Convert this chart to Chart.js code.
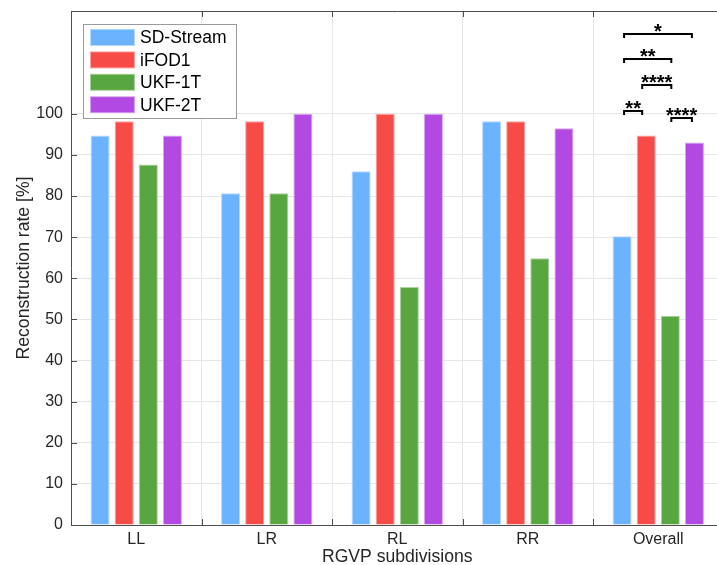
<!DOCTYPE html>
<html>
<head>
<meta charset="utf-8">
<script src="https://cdn.jsdelivr.net/npm/chart.js@4.4.1/dist/chart.umd.min.js"></script>
<style>
  html, body { margin: 0; padding: 0; background: #fff; overflow: hidden; }
  #wrap { width: 740px; height: 565px; }
</style>
</head>
<body>
<div id="wrap"><canvas id="c" width="740" height="565"></canvas></div>
<script>
// ---- data ----
const categories = ['LL', 'LR', 'RL', 'RR', 'Overall'];
const seriesNames = ['SD-Stream', 'iFOD1', 'UKF-1T', 'UKF-2T'];
const sdStream = [94.7, 80.7, 86.0, 98.2, 70.2];
const iFOD1    = [98.2, 98.2, 100.0, 98.2, 94.7];
const ukf1T    = [87.7, 80.7, 57.9, 64.9, 50.9];
const ukf2T    = [94.7, 100.0, 100.0, 96.5, 93.0];
const yTickValues = [0, 10, 20, 30, 40, 50, 60, 70, 80, 90, 100];

// pairwise tests on the Overall group: [series A, series B, marker]
const sigPairs = [[0, 1, '**'], [2, 3, '****'], [1, 2, '****'], [0, 2, '**'], [0, 3, '*']];
// bracket heights in % units, one per pair
const sigLevels = [100.7, 99.1, 107.1, 113.3, 119.5];

// ---- style ----
const FONT = "'Liberation Sans', Arial, Helvetica, sans-serif";
const AXIS = '#4d4d4d';
const TEXT = '#262626';
const GRID = '#e6e6e6';
const fills = ['#6cb3ff', '#f64b47', '#57a63f', '#b149e2'];
const edges = ['#b3d8ff', '#fba3a1', '#abd29f', '#d8a4f0'];
const bracketNudge = [2, -4, 1, -2.5];
const TICK = 6;
const PLOT_TOP = 11;

const seriesValues = [sdStream, iFOD1, ukf1T, ukf2T];

const decor = {
  id: 'decor',
  afterDraw(chart) {
    const { ctx, chartArea: a, scales: { x, y } } = chart;
    ctx.save();

    // box outline and inward tick marks
    ctx.strokeStyle = AXIS;
    ctx.lineWidth = 1;
    ctx.beginPath();
    ctx.moveTo(a.left, a.top + 0.5); ctx.lineTo(a.right, a.top + 0.5);
    ctx.moveTo(a.right - 0.5, a.top); ctx.lineTo(a.right - 0.5, a.bottom);
    yTickValues.forEach(v => {
      const py = Math.round(y.getPixelForValue(v)) + 0.5;
      ctx.moveTo(a.left, py); ctx.lineTo(a.left + TICK, py);
      ctx.moveTo(a.right, py); ctx.lineTo(a.right - TICK, py);
    });
    for (let i = 1; i < categories.length; i++) {
      const px = Math.round((x.getPixelForValue(i - 1) + x.getPixelForValue(i)) / 2) + 0.5;
      ctx.moveTo(px, a.bottom); ctx.lineTo(px, a.bottom - TICK);
      ctx.moveTo(px, a.top); ctx.lineTo(px, a.top + TICK);
    }
    ctx.stroke();

    // axis titles
    ctx.fillStyle = TEXT;
    ctx.font = `17.6px ${FONT}`;
    ctx.textAlign = 'center';
    ctx.textBaseline = 'middle';
    ctx.fillText('RGVP subdivisions', (a.left + a.right) / 2, 557);
    ctx.save();
    ctx.translate(24, (a.top + a.bottom) / 2);
    ctx.rotate(-Math.PI / 2);
    ctx.fillText('Reconstruction rate [%]', 0, 0);
    ctx.restore();

    // significance brackets over the last group
    const last = categories.length - 1;
    ctx.strokeStyle = '#000';
    ctx.fillStyle = '#000';
    ctx.lineWidth = 2;
    ctx.lineJoin = 'miter';
    ctx.font = `bold 20px ${FONT}`;
    ctx.textBaseline = 'alphabetic';
    sigPairs.forEach(([sa, sb, mark], k) => {
      const xa = chart.getDatasetMeta(sa).data[last].x + bracketNudge[sa];
      const xb = chart.getDatasetMeta(sb).data[last].x + bracketNudge[sb];
      const yy = Math.round(y.getPixelForValue(sigLevels[k]));
      ctx.beginPath();
      ctx.moveTo(xa, yy + 4); ctx.lineTo(xa, yy); ctx.lineTo(xb, yy); ctx.lineTo(xb, yy + 4);
      ctx.stroke();
      ctx.fillText(mark, (xa + xb) / 2, yy + 4);
    });

    // legend
    const lx = 83.5, ly = 24.5, lw = 153, lh = 94;
    ctx.fillStyle = '#fff';
    ctx.fillRect(lx, ly, lw, lh);
    ctx.strokeStyle = '#9a9a9a';
    ctx.lineWidth = 1;
    ctx.strokeRect(lx, ly, lw, lh);
    ctx.font = `17.5px ${FONT}`;
    ctx.textAlign = 'left';
    ctx.textBaseline = 'middle';
    chart.data.datasets.forEach((ds, i) => {
      const cy = 37.5 + i * 22.4;
      ctx.fillStyle = ds.borderColor;
      ctx.fillRect(90, cy - 8.5, 45, 17);
      ctx.fillStyle = ds.backgroundColor;
      ctx.fillRect(91, cy - 7.5, 43, 15);
      ctx.fillStyle = '#000';
      ctx.fillText(ds.label, 140, cy + 1);
    });

    ctx.restore();
  }
};

new Chart(document.getElementById('c'), {
  type: 'bar',
  data: {
    labels: categories,
    datasets: seriesNames.map((name, i) => ({
      label: name,
      data: seriesValues[i],
      backgroundColor: fills[i],
      borderColor: edges[i],
      borderWidth: 1,
      borderSkipped: 'start',
      categoryPercentage: 0.739,
      barPercentage: 0.79
    }))
  },
  options: {
    responsive: false,
    animation: false,
    devicePixelRatio: 1,
    layout: { padding: { top: 0, right: 16.5, left: 0, bottom: 0 } },
    plugins: { legend: { display: false }, tooltip: { enabled: false } },
    scales: {
      x: {
        grid: { color: GRID, drawTicks: false, offset: true },
        border: { color: AXIS },
        ticks: { color: TEXT, font: { family: FONT, size: 16 }, padding: 5 },
        afterFit: s => { s.height = 40; }
      },
      y: {
        min: 0,
        max: 125,
        afterBuildTicks: s => { s.ticks = yTickValues.map(v => ({ value: v })); },
        grid: { color: GRID, drawTicks: false },
        border: { color: AXIS },
        ticks: { color: TEXT, font: { family: FONT, size: 16 }, padding: 8 },
        afterFit: s => { s.width = 71; s.paddingTop = PLOT_TOP; }
      }
    }
  },
  plugins: [decor]
});
</script>
</body>
</html>
